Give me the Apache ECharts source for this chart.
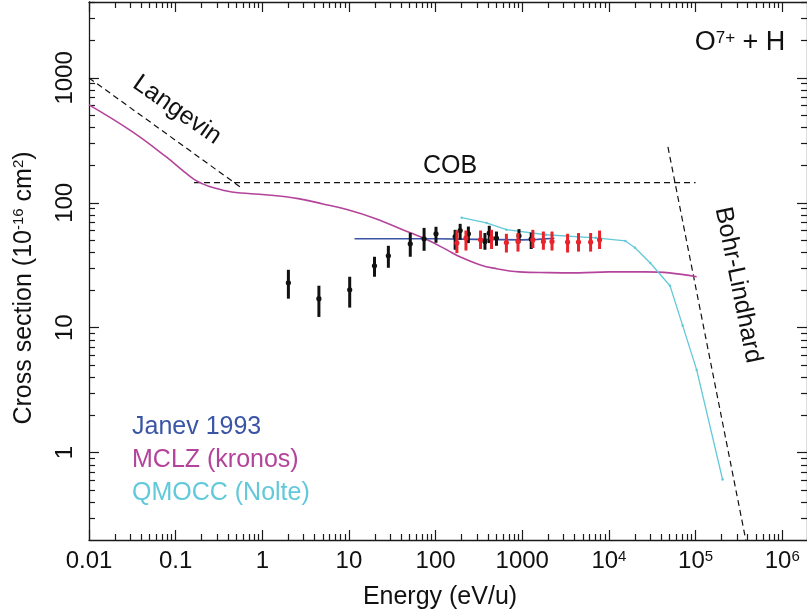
<!DOCTYPE html>
<html>
<head>
<meta charset="utf-8">
<title>O7+ + H charge exchange cross section</title>
<script src="https://cdn.jsdelivr.net/npm/echarts@6/dist/echarts.min.js"></script>
<style>
  html, body { margin: 0; padding: 0; background: #fff; }
  #chart { width: 807px; height: 615px; }
</style>
</head>
<body>
<div id="chart"></div>
<script>
// energies in eV/u, cross sections in 1e-16 cm^2

const langevinE = [0.01, 0.6];
const langevinS = [1000, 129];

const cobE = [0.163, 1.0e5];
const cobS = [145, 145];

const bohrE = [4.8e4, 3.8e5];
const bohrS = [280, 0.2];

const janevE = [11.6, 30, 100, 300, 1000, 1500, 2350];
const janevS = [51.5, 51.5, 51.5, 51, 50.5, 51, 52];

const mclzE = [0.01, 0.0318, 0.078, 0.12, 0.163, 0.2, 0.262, 0.445, 1.09, 2.6, 5, 9.7, 20, 51, 80, 135, 190, 322, 466, 925, 2000, 4490, 1e4, 2.6e4, 5e4, 1.03e5];
const mclzS = [608, 370, 233, 182, 154, 143, 133, 122, 116, 108, 98, 88, 75, 57.5, 50.6, 42, 37, 32, 30, 28, 27.6, 27.5, 28, 28, 27.5, 25.6];

const qmoccE = [200, 387, 656, 1880, 7030, 1.55e4, 2e4, 3e4, 5.07e4, 7.1e4, 1.03e5, 2.05e5];
const qmoccS = [76, 69, 61, 55.5, 52.5, 49.5, 43.7, 33, 21.7, 10.4, 4.6, 0.61];

// black measurements: energy, value, low, high
const blackE = [2.0, 4.5, 10.2, 19.7, 28.5, 51, 73.6, 101, 168, 192, 239, 371, 416, 504, 917, 1268];
const blackS = [22.9, 17.1, 20.1, 31.3, 37.7, 47, 51.5, 56.5, 53.7, 60, 56.5, 49, 57.3, 52.2, 54.5, 51.3];
const blackLo = [17.1, 12.2, 14.5, 25.6, 30.2, 37, 41.3, 47.9, 42.1, 50.6, 47.6, 42.1, 47.6, 45.3, 47.6, 42.7];
const blackHi = [29.1, 21.7, 25.6, 37, 45.3, 57.5, 63, 64.3, 60.8, 67.9, 64.6, 57.3, 65.5, 58.9, 61.6, 57.8];

// red measurements
const redE = [176, 224, 330, 442, 656, 893, 1325, 1753, 2204, 3334, 4454, 6150, 7800];
const redS = [47.6, 52.2, 50.6, 52.2, 48.1, 49, 50.6, 49, 49, 48.5, 48.5, 48.5, 50.6];
const redLo = [39.6, 41.5, 42.7, 42.7, 40, 40.7, 43.5, 42.1, 41.5, 40, 40.7, 40.7, 42.7];
const redHi = [60, 60, 60, 60.8, 56.5, 57.3, 60.8, 58.9, 58.9, 56.5, 57.3, 57.3, 60];

// axis ticks (log10 exponents)
const xMajor = [-2, -1, 0, 1, 2, 3, 4, 5, 6];
const xTickLabels = ['0.01', '0.1', '1', '10', '100', '1000', '10{s|4}', '10{s|5}', '10{s|6}'];
const yMajor = [0, 1, 2, 3];
const yTickLabels = ['1', '10', '100', '1000'];

const xMin = -2, xMax = 6.286;
const yMin = Math.log10(0.2), yMax = Math.log10(4050);

const FONT = '"Liberation Sans", Arial, Helvetica, sans-serif';
const janevColor = '#3b55a6';
const mclzColor = '#b4449b';
const qmoccColor = '#62c9da';
const redColor = '#e8232b';

const lg = Math.log10;

function minorTicks(lo, hi) {
  const out = [];
  for (let p = Math.floor(lo); p <= Math.ceil(hi); p++) {
    for (let k = 2; k <= 9; k++) {
      const v = p + lg(k);
      if (v > lo && v < hi) out.push(v);
    }
  }
  return out;
}

function pairs(es, ss) {
  return es.map((e, i) => [lg(e), lg(ss[i])]);
}

function errData(es, ss, lo, hi) {
  return es.map((e, i) => [lg(e), lg(ss[i]), lg(lo[i]), lg(hi[i])]);
}

function errRender(color) {
  return function (params, api) {
    const x = api.value(0);
    const mid = api.coord([x, api.value(1)]);
    const bot = api.coord([x, api.value(2)]);
    const top = api.coord([x, api.value(3)]);
    return {
      type: 'group',
      children: [
        { type: 'line', shape: { x1: top[0], y1: top[1], x2: bot[0], y2: bot[1] }, style: { stroke: color, lineWidth: 3 } },
        { type: 'circle', shape: { cx: mid[0], cy: mid[1], r: 2.6 }, style: { fill: color } }
      ]
    };
  };
}

const tickLine = { color: '#1a1a1a', width: 1.2 };

function axisLineOf(major) {
  return { show: major, onZero: false, lineStyle: { color: '#1a1a1a', width: 1.3 } };
}

function xAxisOf(position, major, withLabels) {
  return {
    type: 'value', position, min: xMin, max: xMax,
    axisLine: axisLineOf(major),
    splitLine: { show: false },
    axisTick: { show: true, inside: true, length: major ? 10 : 6, lineStyle: tickLine,
      customValues: major ? xMajor : minorTicks(xMin, xMax) },
    axisLabel: withLabels ? {
      show: true, customValues: xMajor, margin: 9,
      color: '#111', fontSize: 24, fontFamily: FONT,
      formatter: (v) => xTickLabels[xMajor.indexOf(Math.round(v))],
      rich: { s: { fontSize: 15, fontFamily: FONT, color: '#111', verticalAlign: 'top' } }
    } : { show: false }
  };
}

function yAxisOf(position, major, withLabels) {
  return {
    type: 'value', position, min: yMin, max: yMax,
    axisLine: axisLineOf(major),
    splitLine: { show: false },
    axisTick: { show: true, inside: true, length: major ? 10 : 6, lineStyle: tickLine,
      customValues: major ? yMajor : minorTicks(yMin, yMax) },
    axisLabel: withLabels ? {
      show: true, customValues: yMajor, rotate: 90, margin: 12,
      color: '#111', fontSize: 24, fontFamily: FONT,
      formatter: (v) => yTickLabels[yMajor.indexOf(Math.round(v))]
    } : { show: false }
  };
}

const dashed = { color: '#111', width: 1.2, type: [6, 4] };

const chart = echarts.init(document.getElementById('chart'));

chart.setOption({
  animation: false,
  textStyle: { fontFamily: FONT },
  grid: { left: 89, top: 2, width: 724, height: 538 },
  xAxis: [
    xAxisOf('bottom', true, true),
    xAxisOf('bottom', false, false),
    xAxisOf('top', true, false),
    xAxisOf('top', false, false)
  ],
  yAxis: [
    yAxisOf('left', true, true),
    yAxisOf('left', false, false),
    yAxisOf('right', true, false),
    yAxisOf('right', false, false)
  ],
  legend: {
    orient: 'vertical', left: 122, top: 406,
    icon: 'none', itemWidth: 0, itemHeight: 0, itemGap: 0,
    selectedMode: false,
    textStyle: { fontSize: 25, fontFamily: FONT, lineHeight: 33 },
    data: [
      { name: 'Janev 1993', textStyle: { color: janevColor } },
      { name: 'MCLZ (kronos)', textStyle: { color: mclzColor } },
      { name: 'QMOCC (Nolte)', textStyle: { color: qmoccColor } }
    ]
  },
  graphic: [
    { type: 'text', x: 177, y: 110, rotation: -35 * Math.PI / 180,
      style: { text: 'Langevin', font: '25px ' + FONT, fill: '#111', align: 'center', verticalAlign: 'middle' } },
    { type: 'text', x: 450, y: 166,
      style: { text: 'COB', font: '25px ' + FONT, fill: '#111', align: 'center', verticalAlign: 'middle' } },
    { type: 'text', x: 738, y: 285, rotation: -78.5 * Math.PI / 180,
      style: { text: 'Bohr-Lindhard', font: '25px ' + FONT, fill: '#111', align: 'center', verticalAlign: 'middle' } },
    { type: 'text', x: 740, y: 43,
      style: { text: 'O{s|7+} + H', font: '27px ' + FONT, fill: '#111', align: 'center', verticalAlign: 'middle',
        rich: { s: { fontSize: 17, fontFamily: FONT, fill: '#111', verticalAlign: 'top' } } } },
    { type: 'text', x: 440, y: 597,
      style: { text: 'Energy (eV/u)', font: '25px ' + FONT, fill: '#111', align: 'center', verticalAlign: 'middle' } },
    { type: 'text', x: 24, y: 288, rotation: Math.PI / 2,
      style: { text: 'Cross section (10{s|-16} cm{s|2})', font: '25px ' + FONT, fill: '#111', align: 'center', verticalAlign: 'middle',
        rich: { s: { fontSize: 15, fontFamily: FONT, fill: '#111', verticalAlign: 'top' } } } }
  ],
  series: [
    { type: 'line', name: 'Langevin', data: pairs(langevinE, langevinS), symbol: 'none', silent: true, lineStyle: dashed },
    { type: 'line', name: 'COB', data: pairs(cobE, cobS), symbol: 'none', silent: true, lineStyle: dashed },
    { type: 'line', name: 'Bohr-Lindhard', data: pairs(bohrE, bohrS), symbol: 'none', silent: true, lineStyle: dashed },
    { type: 'line', name: 'MCLZ (kronos)', data: pairs(mclzE, mclzS), symbol: 'none', smooth: 0.4,
      lineStyle: { color: mclzColor, width: 1.6 }, itemStyle: { color: mclzColor } },
    { type: 'line', name: 'QMOCC (Nolte)', data: pairs(qmoccE, qmoccS), symbol: 'circle', symbolSize: 2.5,
      lineStyle: { color: qmoccColor, width: 1.3 }, itemStyle: { color: qmoccColor } },
    { type: 'line', name: 'Janev 1993', data: pairs(janevE, janevS), symbol: 'none',
      lineStyle: { color: janevColor, width: 1.6 }, itemStyle: { color: janevColor } },
    { type: 'custom', name: 'black data', renderItem: errRender('#111'), data: errData(blackE, blackS, blackLo, blackHi), z: 5 },
    { type: 'custom', name: 'red data', renderItem: errRender(redColor), data: errData(redE, redS, redLo, redHi), z: 6 }
  ]
});
</script>
</body>
</html>
